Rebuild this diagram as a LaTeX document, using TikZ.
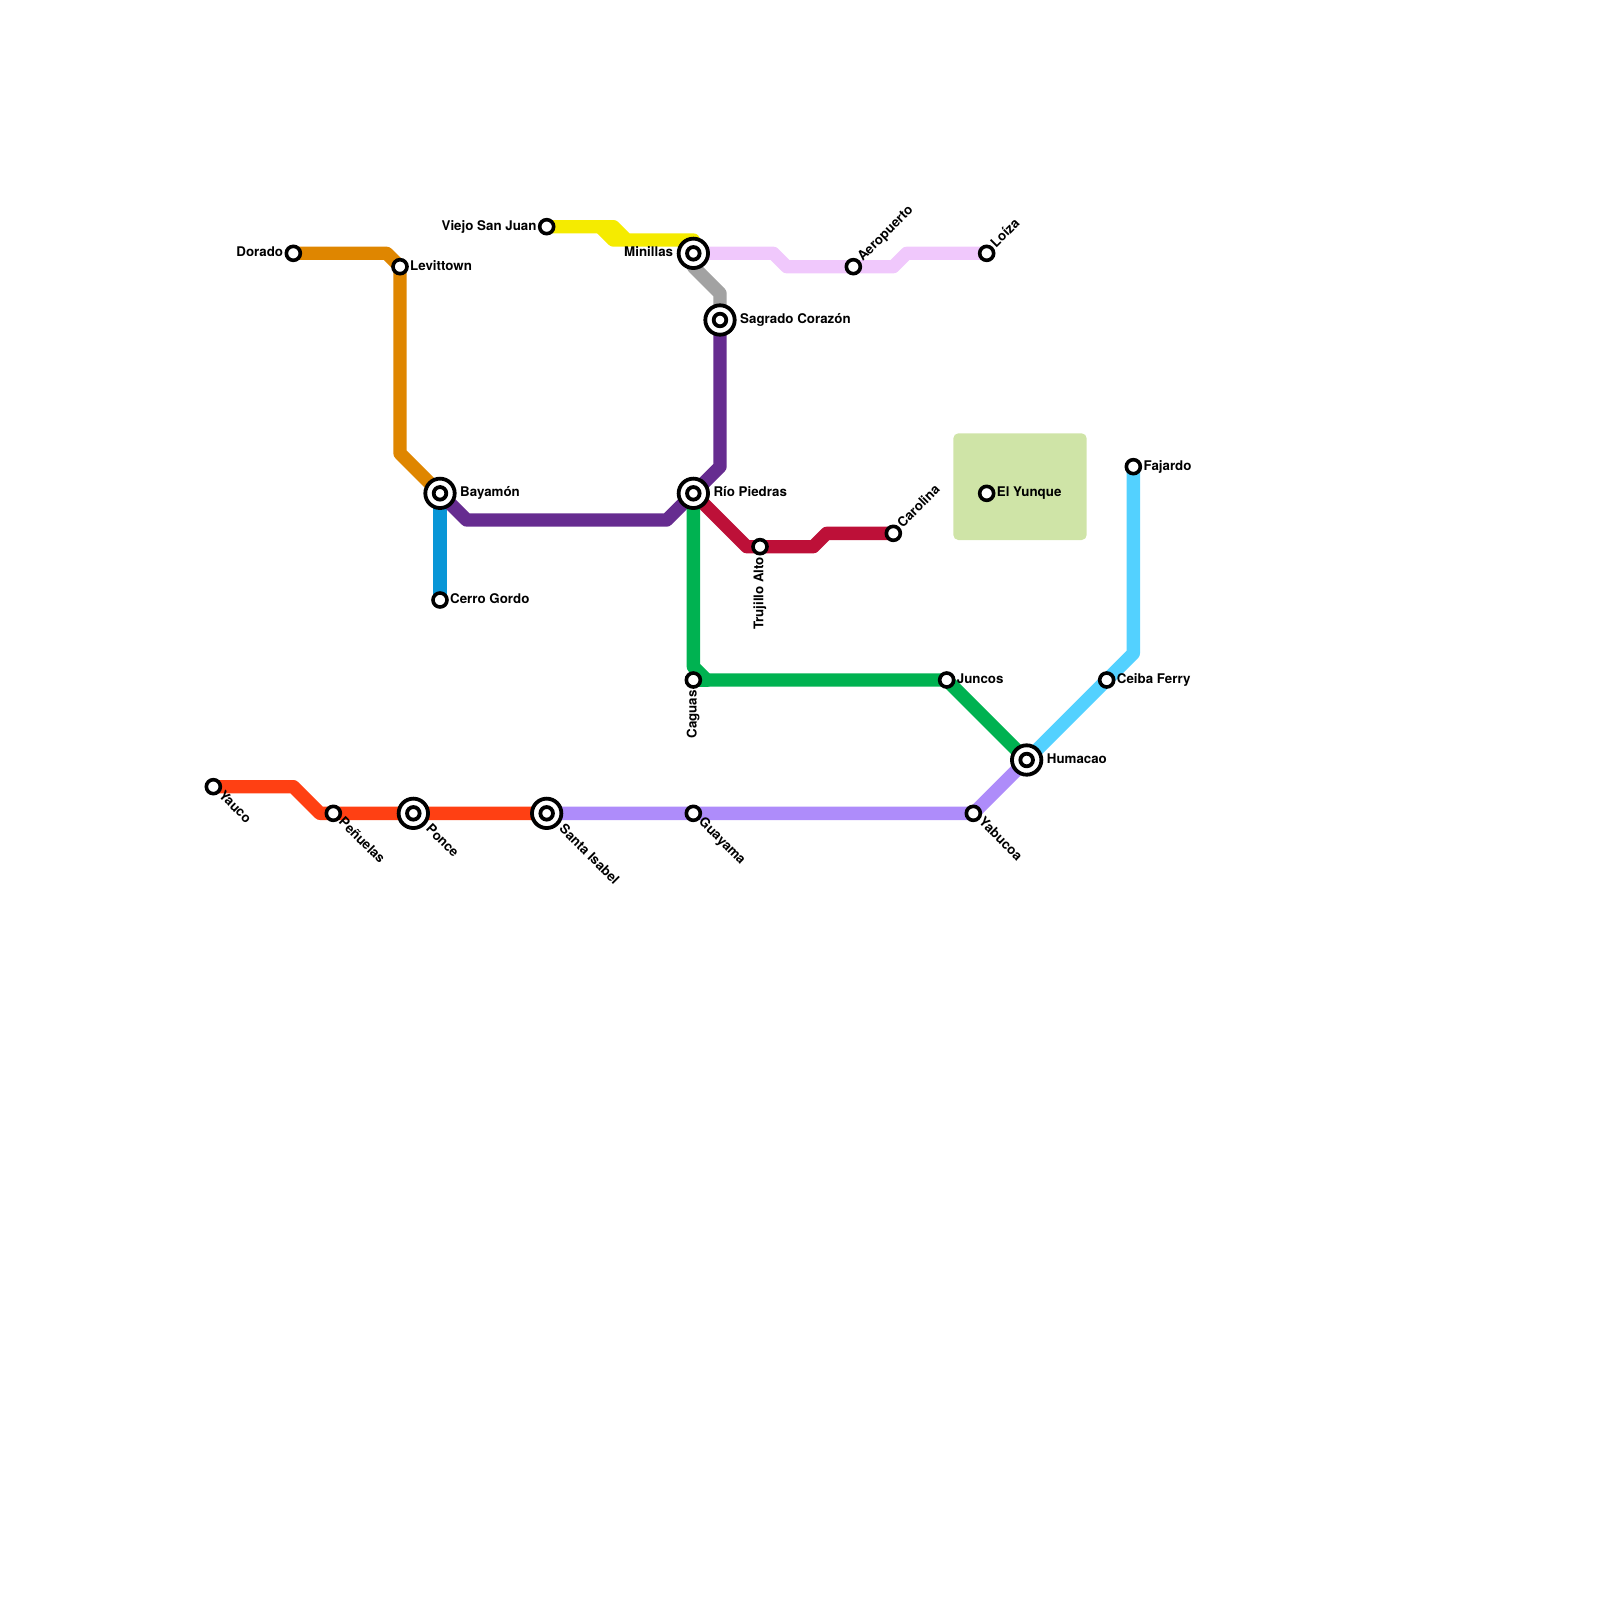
\documentclass[tikz,border=0pt]{standalone}
\usepackage{fontspec}
\setmainfont{TeX Gyre Heros}
\usetikzlibrary{backgrounds}
\definecolor{orangeln}{HTML}{DF8600}
\definecolor{blueln}{HTML}{0896D7}
\definecolor{purpleln}{HTML}{662C90}
\definecolor{yellowln}{HTML}{F5EB00}
\definecolor{lilacln}{HTML}{F0C8FC}
\definecolor{grayln}{HTML}{A2A2A2}
\definecolor{crimsonln}{HTML}{BD1038}
\definecolor{greenln}{HTML}{00B251}
\definecolor{redln}{HTML}{FF4013}
\definecolor{violetln}{HTML}{AE8CFA}
\definecolor{cyanln}{HTML}{53D1FF}
\definecolor{parkcol}{HTML}{CFE4A7}
\tikzset{
  ln/.style={line width=13.33pt,line join=round,line cap=round},
  stn/.style={circle,draw=black,fill=white,line width=3.6pt,minimum size=14pt,inner sep=0pt},
  hub/.style={circle,draw=black,fill=white,line width=3.8pt,minimum size=29.4pt,inner sep=0pt},
  hubin/.style={circle,draw=black,fill=white,line width=3.8pt,minimum size=12.6pt,inner sep=0pt},
  lbl/.style={inner sep=0pt,text=black,font=\bfseries\fontsize{13.33}{15}\selectfont}
}
\begin{document}
\begin{tikzpicture}[x=13.33333pt,y=-13.33333pt]
\path[use as bounding box] (0,0) rectangle (120,120);
\fill[parkcol,rounded corners=5pt] (71.5,32.5) rectangle (81.5,40.5);
% stations
\node[stn] (dorado) at (22,19) {};
\node[stn] (levittown) at (30,20) {};
\node[stn] (cerrogordo) at (33,45) {};
\node[stn] (viejosj) at (41,17) {};
\node[stn] (aeropuerto) at (64,20) {};
\node[stn] (loiza) at (74,19) {};
\node[stn] (trujillo) at (57,41) {};
\node[stn] (carolina) at (67,40) {};
\node[stn] (yunque) at (74,37) {};
\node[stn] (fajardo) at (85,35) {};
\node[stn] (ceiba) at (83,51) {};
\node[stn] (juncos) at (71,51) {};
\node[stn] (caguas) at (52,51) {};
\node[stn] (yauco) at (16,59) {};
\node[stn] (penuelas) at (25,61) {};
\node[stn] (guayama) at (52,61) {};
\node[stn] (yabucoa) at (73,61) {};
\node[hub] (bayamon) at (33,37) {};
\node[hubin] (bayamon-i) at (33,37) {};
\node[hub] (minillas) at (52,19) {};
\node[hubin] (minillas-i) at (52,19) {};
\node[hub] (sagrado) at (54,24) {};
\node[hubin] (sagrado-i) at (54,24) {};
\node[hub] (rio) at (52,37) {};
\node[hubin] (rio-i) at (52,37) {};
\node[hub] (humacao) at (77,57) {};
\node[hubin] (humacao-i) at (77,57) {};
\node[hub] (ponce) at (31,61) {};
\node[hubin] (ponce-i) at (31,61) {};
\node[hub] (santaisabel) at (41,61) {};
\node[hubin] (santaisabel-i) at (41,61) {};
% lines
\begin{pgfonlayer}{background}
\draw[ln,orangeln] (dorado.center)--(29,19)--(levittown.center)--(30,34)--(bayamon.center);
\draw[ln,blueln] (bayamon.center)--(cerrogordo.center);
\draw[ln,yellowln] (viejosj.center)--(46,17)--(47,18)--(52,18)--(minillas.center);
\draw[ln,yellowln] (45,17)--(46,18)--(47,18);
\draw[ln,lilacln] (minillas.center)--(58,19)--(59,20)--(aeropuerto.center)--(67,20)--(68,19)--(loiza.center);
\draw[ln,grayln] (minillas.center)--(52,20)--(54,22)--(sagrado.center);
\draw[ln,purpleln] (sagrado.center)--(54,35)--(rio.center)--(50,39)--(35,39)--(bayamon.center);
\draw[ln,crimsonln] (rio.center)--(56,41)--(trujillo.center)--(61,41)--(62,40)--(carolina.center);
\draw[ln,greenln] (rio.center)--(52,50)--(53,51)--(juncos.center)--(humacao.center);
\draw[ln,greenln] (caguas.center)--(53,51);
\draw[ln,redln] (yauco.center)--(22,59)--(24,61)--(penuelas.center)--(ponce.center)--(santaisabel.center);
\draw[ln,violetln] (santaisabel.center)--(guayama.center)--(yabucoa.center)--(humacao.center);
\draw[ln,cyanln] (humacao.center)--(ceiba.center)--(85,49)--(fajardo.center);
\end{pgfonlayer}
% labels
\node[lbl,anchor=base east] (dorado-t) at (21.25,19.25) {Dorado};
\node[lbl,anchor=base east] (viejosj-t) at (40.25,17.25) {Viejo San Juan};
\node[lbl,anchor=base east] (minillas-t) at (50.5,19.25) {Minillas};
\node[lbl,anchor=base west] (levittown-t) at (30.75,20.25) {Levittown};
\node[lbl,anchor=base west] (cerrogordo-t) at (33.75,45.25) {Cerro Gordo};
\node[lbl,anchor=base west] (yunque-t) at (74.75,37.25) {El Yunque};
\node[lbl,anchor=base west] (fajardo-t) at (85.75,35.25) {Fajardo};
\node[lbl,anchor=base west] (ceiba-t) at (83.75,51.25) {Ceiba Ferry};
\node[lbl,anchor=base west] (juncos-t) at (71.75,51.25) {Juncos};
\node[lbl,anchor=base west] (bayamon-t) at (34.5,37.25) {Bayamón};
\node[lbl,anchor=base west] (sagrado-t) at (55.5,24.25) {Sagrado Corazón};
\node[lbl,anchor=base west] (rio-t) at (53.5,37.25) {Río Piedras};
\node[lbl,anchor=base west] (humacao-t) at (78.5,57.25) {Humacao};
\node[lbl,anchor=base west,rotate=45] (aeropuerto-t) at (64.705,19.645) {Aeropuerto};
\node[lbl,anchor=base west,rotate=45] (loiza-t) at (74.705,18.645) {Loíza};
\node[lbl,anchor=base west,rotate=45] (carolina-t) at (67.705,39.645) {Carolina};
\node[lbl,anchor=base east,rotate=90] (trujillo-t) at (57.25,41.75) {Trujillo Alto};
\node[lbl,anchor=base east,rotate=90] (caguas-t) at (52.25,51.75) {Caguas};
\node[lbl,anchor=base west,rotate=-45] (yauco-t) at (16.355,59.705) {Yauco};
\node[lbl,anchor=base west,rotate=-45] (penuelas-t) at (25.355,61.705) {Peñuelas};
\node[lbl,anchor=base west,rotate=-45] (guayama-t) at (52.355,61.705) {Guayama};
\node[lbl,anchor=base west,rotate=-45] (yabucoa-t) at (73.355,61.705) {Yabucoa};
\node[lbl,anchor=base west,rotate=-45] (ponce-t) at (31.885,62.235) {Ponce};
\node[lbl,anchor=base west,rotate=-45] (santaisabel-t) at (41.885,62.235) {Santa Isabel};
\end{tikzpicture}
\end{document}
